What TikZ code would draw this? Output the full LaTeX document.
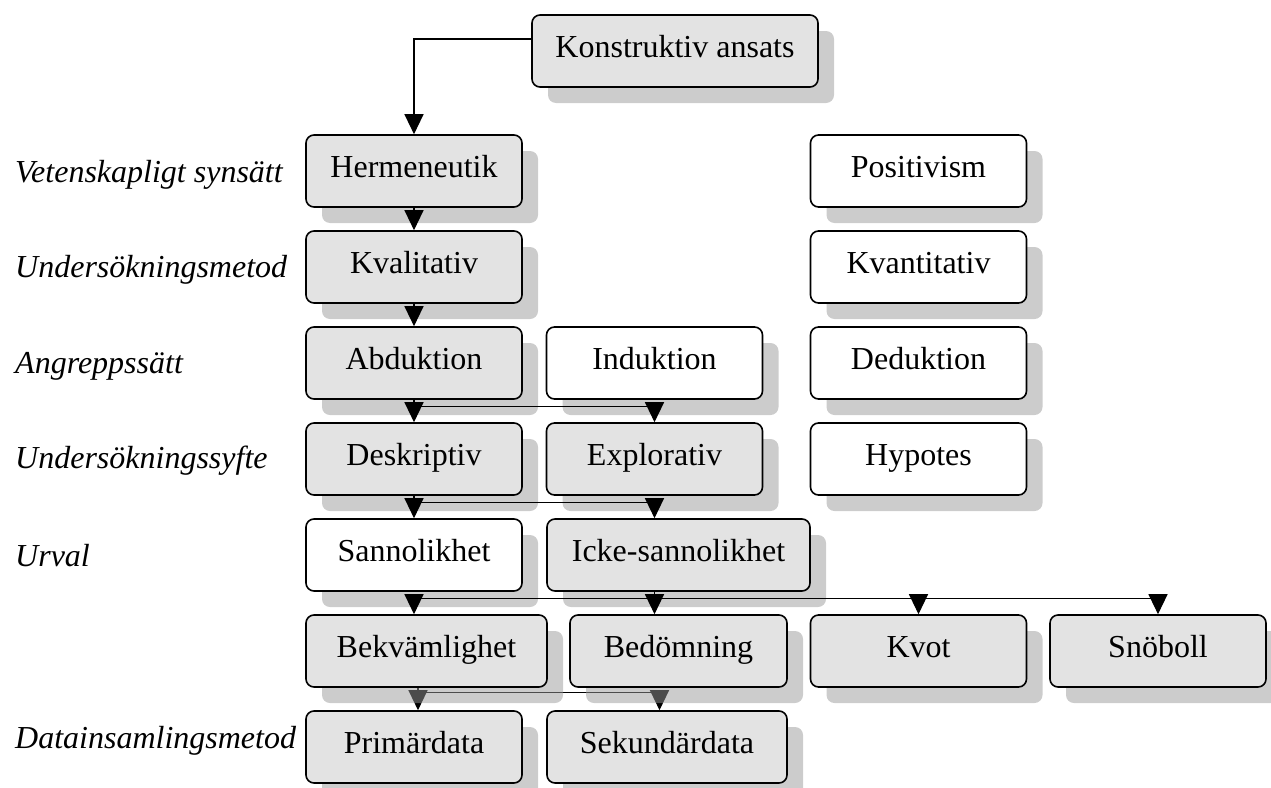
\documentclass[tikz,border=0pt]{standalone}
\usepackage{fontspec}
\setmainfont{Liberation Serif}
\usetikzlibrary{arrows.meta,shadows,backgrounds,calc}
\begin{document}
\begin{tikzpicture}[x=1pt,y=-1pt,
  box/.style={draw=black, line width=1.6pt, rounded corners=8pt,
    minimum height=72pt, minimum width=216pt, inner sep=0pt,
    text height=21pt, text depth=9pt,
    font=\fontsize{32}{38}\selectfont,
    drop shadow={shadow xshift=16pt, shadow yshift=-16pt, fill=black!40, opacity=0.5}},
  gbox/.style={box, fill=black!11},
  wbox/.style={box, fill=white},
  lab/.style={anchor=base west, inner sep=0pt, font=\fontsize{32}{38}\selectfont\itshape},
  arr/.style={line width=1.2pt, -{Triangle[width=19pt,length=20pt]}},
]
\useasboundingbox (0,0) rectangle (1271,787);

% row labels
\node[lab] (l1) at (15,182) {Vetenskapligt synsätt};
\node[lab] (l2) at (15,277) {Undersökningsmetod};
\node[lab] (l3) at (15,373) {Angreppssätt};
\node[lab] (l4) at (15,468) {Undersökningssyfte};
\node[lab] (l5) at (15,566) {Urval};
\node[lab] (l7) at (15,748) {Datainsamlingsmetod};

% boxes
\node[gbox, minimum width=286pt] (kon) at (675,51) {Konstruktiv ansats};
\node[gbox] (herm) at (414,171) {Hermeneutik};
\node[wbox] (pos) at (918.5,171) {Positivism};
\node[gbox] (kval) at (414,267) {Kvalitativ};
\node[wbox] (kvant) at (918.5,267) {Kvantitativ};
\node[gbox] (abd) at (414,363) {Abduktion};
\node[wbox] (ind) at (654.5,363) {Induktion};
\node[wbox] (ded) at (918.5,363) {Deduktion};
\node[gbox] (desk) at (414,459) {Deskriptiv};
\node[gbox] (expl) at (654.5,459) {Explorativ};
\node[wbox] (hyp) at (918.5,459) {Hypotes};
\node[wbox] (sann) at (414,555) {Sannolikhet};
\node[gbox, minimum width=263pt] (icke) at (678.5,555) {Icke-sannolikhet};
\node[gbox, minimum width=241pt] (bek) at (426.5,651) {Bekvämlighet};
\node[gbox, minimum width=217pt] (bed) at (678.5,651) {Bedömning};
\node[gbox] (kvot) at (918.5,651) {Kvot};
\node[gbox] (snob) at (1158,651) {Snöboll};
\node[gbox] (prim) at (414,747) {Primärdata};
\node[gbox, minimum width=240pt] (sek) at (667,747) {Sekundärdata};

% connectors
\draw[arr] ([yshift=12pt]kon.west) -| (herm.north);
\draw[arr] (herm.south) -- (kval.north);
\draw[arr] (kval.south) -- (abd.north);
\draw[arr] (abd.south) -- (desk.north);
\draw[arr] ($(abd.south)+(0,7)$) -| (expl.north);
\draw[arr] (desk.south) -- (sann.north);
\draw[arr] ($(desk.south)+(0,7)$) -| (icke.north -| expl.south);
\coordinate (hub) at ($(icke.south -| expl.south)+(0,7)$);
\draw[arr] (icke.south -| expl.south) -- (bed.north -| expl.south);
\draw[arr] (hub) -| (bek.north -| herm.south);
\draw[arr] (hub) -| (kvot.north);
\draw[arr] (hub) -| (snob.north);
\begin{scope}[on background layer]
\draw[arr] ([xshift=4pt]bek.south -| prim.north) -- ([xshift=4pt]prim.north);
\draw[arr] ($([xshift=4pt]bek.south -| prim.north)+(0,5)$) -| ([xshift=5pt]sek.north -| expl.south);
\end{scope}
\end{tikzpicture}
\end{document}
